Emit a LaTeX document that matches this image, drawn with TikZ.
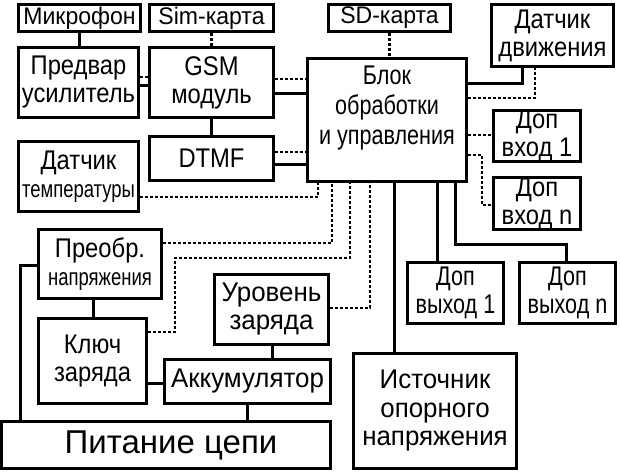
\documentclass[tikz,border=0pt]{standalone}
\usepackage{fontspec}
\setmainfont{Liberation Sans}[FakeStretch=0.88]
\newfontfamily\tightfont{Liberation Sans}[FakeStretch=0.8]
\newfontfamily\widefont{Liberation Sans}[FakeStretch=0.96]
\newfontfamily\narrowfont{Liberation Sans}[FakeStretch=0.77]
\newfontfamily\plainfont{Liberation Sans}
\newcommand\smalltext{\narrowfont\fontsize{24}{28}\selectfont}

\tikzstyle{box} = [rectangle, line width=3pt, draw=black, align=center, inner sep=0pt, font=\fontsize{27}{28}\selectfont]
\tikzstyle{top} = [box, minimum height=27pt, font=\widefont\fontsize{24}{26}\selectfont]
\tikzstyle{line} = [line width=3pt]
\tikzstyle{dots} = [line width=2.6pt, dash pattern=on 2.6pt off 2.4pt]

\begin{document}
\begin{tikzpicture}[x=1pt,y=-1pt]
  \useasboundingbox (0,0) rectangle (620,472);

  \node (Microphone) [top, minimum width=122pt] at (79.5,18) {Микрофон};
  \node (Sim Card) [top, minimum width=124pt] at (211.5,18) {Sim-карта};
  \node (SD Card) [top, minimum width=122pt] at (389.5,18) {SD-карта};
  \node (Motion Sensor) [box, minimum width=122pt, minimum height=62pt] at (552.5,35.5) {Датчик\\движения};
  \node (Preamp) [box, minimum width=120pt, minimum height=70pt] at (78.5,82.5) {Предвар\\усилитель};
  \node (GSM Module) [box, minimum width=124pt, minimum height=70pt] at (211.5,82.5) {GSM\\модуль};
  \node (Control Unit) [box, minimum width=159pt, minimum height=123pt, text depth=30pt, font=\tightfont\fontsize{27}{30}\selectfont] at (387,120) {Блок\\обработки\\и управления};
  \node (DTMF) [box, minimum width=124pt, minimum height=44pt] at (211.5,158.5) {DTMF};
  \node (Temp Sensor) [box, minimum width=120pt, minimum height=70pt] at (78.5,176.5) {Датчик\\{\smalltext температуры}};
  \node (Input One) [box, minimum width=87pt, minimum height=51pt] at (537,136) {Доп\\вход 1};
  \node (Input N) [box, minimum width=87pt, minimum height=50pt] at (537,203.5) {Доп\\вход n};
  \node (Converter) [box, minimum width=123pt, minimum height=69pt] at (100,264) {Преобр.\\{\smalltext напряжения}};
  \node (Charge Switch) [box, minimum width=108pt, minimum height=85pt] at (92.5,361) {Ключ\\заряда};
  \node (Charge Level) [box, minimum width=114pt, minimum height=70pt, font=\widefont\fontsize{27}{28}\selectfont] at (271.5,309.5) {Уровень\\заряда};
  \node (Battery) [box, minimum width=166pt, minimum height=44pt, font=\widefont\fontsize{27}{28}\selectfont] at (247.5,381.5) {Аккумулятор};
  \node (Power Circuit) [box, minimum width=329pt, minimum height=47pt, font=\plainfont\fontsize{33}{36}\selectfont] at (166,445) {\hspace*{10pt}Питание цепи};
  \node (Output One) [box, minimum width=96pt, minimum height=61pt, font=\tightfont\fontsize{27}{28}\selectfont] at (455.5,293) {Доп\\выход 1};
  \node (Output N) [box, minimum width=96pt, minimum height=61pt, font=\tightfont\fontsize{27}{28}\selectfont] at (567.5,293) {Доп\\выход n};
  \node (Reference Source) [box, minimum width=163pt, minimum height=115pt, font=\widefont\fontsize{27}{28.5}\selectfont] at (435,411) {Источник\\опорного\\напряжения};

  \draw [line] (Microphone.south) -- (Microphone.south |- Preamp.north);
  \draw [dots] (Sim Card.south) -- (Sim Card.south |- GSM Module.north);
  \draw [dots] (SD Card.south) -- (SD Card.south |- Control Unit.north);
  \draw [dots] (Preamp.east |- 0,77) -- (GSM Module.west |- 0,77);
  \draw [line] (Preamp.east |- 0,85) -- (GSM Module.west |- 0,85);
  \draw [line] (GSM Module.south) -- (DTMF.north);
  \draw [dots] (GSM Module.east |- 0,79) -- (Control Unit.west |- 0,79);
  \draw [line] (GSM Module.east |- 0,93) -- (Control Unit.west |- 0,93);
  \draw [dots] (DTMF.east |- 0,152) -- (Control Unit.west |- 0,152);
  \draw [line] (DTMF.east |- 0,164) -- (Control Unit.west |- 0,164);
  \draw [dots] (Temp Sensor.east |- 0,197) -| (Control Unit.south -| 318,0);

  \draw [line] (Control Unit.east |- 0,83) -| (Motion Sensor.south -| 522,0);
  \draw [dots] (Control Unit.east |- 0,98) -| (Motion Sensor.south -| 535,0);
  \draw [dots] (Control Unit.east |- 0,135) -- (Input One.west |- 0,135);
  \draw [dots] (Control Unit.east |- 0,155) -| (482,205) -- (Input N.west |- 0,205);

  \draw [dots] (Converter.east |- 0,243) -| (Control Unit.south -| 332,0);
  \draw [dots] (Charge Switch.east |- 0,332) -| (175,258) -| (Control Unit.south -| 350,0);
  \draw [dots] (Charge Level.east |- 0,308) -| (Control Unit.south -| 370,0);
  \draw [line] (Control Unit.south -| 394,0) -- (Reference Source.north -| 394,0);
  \draw [line] (Control Unit.south -| 437,0) -- (Output One.north -| 437,0);
  \draw [line] (Control Unit.south -| 455,0) |- (566,244) -- (Output N.north -| 566,0);

  \draw [line] (Converter.west |- 0,265) -| (Power Circuit.north -| 20,0);
  \draw [line] (Converter.south -| 93,0) -- (Charge Switch.north -| 93,0);
  \draw [line] (Charge Switch.east |- 0,383) -- (Battery.west |- 0,383);
  \draw [line] (Charge Level.south -| 272,0) -- (Battery.north -| 272,0);
  \draw [line] (Battery.south -| 247,0) -- (Power Circuit.north -| 247,0);
\end{tikzpicture}
\end{document}
